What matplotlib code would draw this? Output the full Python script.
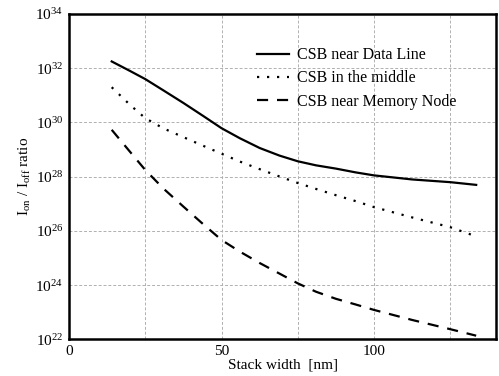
import matplotlib
matplotlib.use("Agg")
import matplotlib.pyplot as plt
from matplotlib.ticker import FixedLocator, LogFormatterMathtext, NullFormatter
import numpy as np

plt.rcParams['font.family'] = ['Liberation Serif', 'DejaVu Serif']
plt.rcParams['mathtext.fontset'] = 'custom'
plt.rcParams['mathtext.rm'] = 'Liberation Serif'
plt.rcParams['mathtext.it'] = 'Liberation Serif:italic'

# stack width [nm]
width_nm = [14, 20, 25, 31, 37.5, 44, 50, 56, 62.5, 69, 75, 81, 87.5, 94, 100, 112.5, 125, 133.5]

# log10 of Ion/Ioff ratio
log_data_line = [32.25, 31.9, 31.6, 31.18, 30.72, 30.24, 29.79, 29.42, 29.06, 28.78, 28.57,
                 28.42, 28.3, 28.16, 28.05, 27.9, 27.8, 27.7]
log_middle = [31.3, 30.65, 30.16, 29.78, 29.46, 29.14, 28.85, 28.56, 28.28, 28.01, 27.77,
              27.55, 27.32, 27.1, 26.88, 26.5, 26.14, 25.8]
log_memory_node = [29.73, 28.92, 28.25, 27.56, 26.9, 26.25, 25.67, 25.24, 24.82, 24.43, 24.07,
                   23.76, 23.5, 23.29, 23.09, 22.72, 22.38, 22.14]

labels = ["CSB near Data Line", "CSB in the middle", "CSB near Memory Node"]

fig = plt.figure(figsize=(4.99, 3.76), dpi=100)
ax = fig.add_axes([0.1383, 0.0971, 0.8557, 0.8657])

x = np.array(width_nm)
ax.semilogy(x, 10 ** np.array(log_data_line), color='black', linestyle='-', linewidth=1.6, label=labels[0])
ax.semilogy(x, 10 ** np.array(log_middle), color='black', linestyle=(0, (1, 3.5)), linewidth=1.6, label=labels[1])
ax.semilogy(x, 10 ** np.array(log_memory_node), color='black', linestyle=(0, (5, 4)), linewidth=1.6, label=labels[2])

ax.set_xlim(0, 140)
ax.set_ylim(1e22, 1e34)

ax.xaxis.set_major_locator(FixedLocator([0, 50, 100]))
ax.xaxis.set_minor_locator(FixedLocator([25, 75, 125]))
ax.yaxis.set_major_locator(FixedLocator([10.0 ** k for k in range(22, 35, 2)]))
ax.yaxis.set_major_formatter(LogFormatterMathtext())
ax.yaxis.set_minor_locator(FixedLocator([]))
ax.yaxis.set_minor_formatter(NullFormatter())

ax.grid(True, which='both', linestyle=(0, (3, 2)), color='#b0b0b0', linewidth=0.7)
ax.tick_params(which='both', length=0, labelsize=11, pad=4)

for s in ax.spines.values():
    s.set_linewidth(1.8)

ax.set_xlabel("Stack width  [nm]", fontsize=11, labelpad=0)
ax.set_ylabel(r"I$_{\mathrm{on}}$ / I$_{\mathrm{off}}$ ratio", fontsize=11, labelpad=2)

leg = ax.legend(loc='upper left', frameon=False, fontsize=11.5, handlelength=2.0,
                handletextpad=0.5, labelspacing=0.45, bbox_to_anchor=(0.407, 0.942))

fig.savefig("out.png", dpi=100)
